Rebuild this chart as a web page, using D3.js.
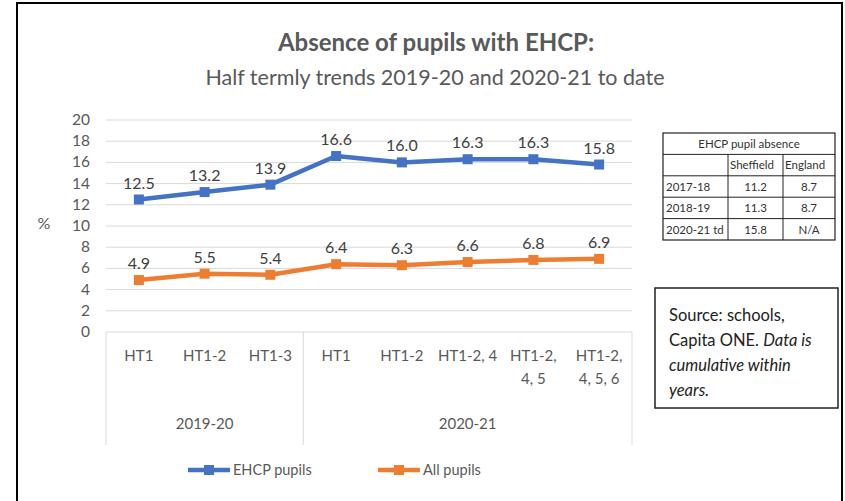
<!DOCTYPE html>
<html>
<head>
<meta charset="utf-8">
<script src="https://cdn.jsdelivr.net/npm/d3@7"></script>
<style>
  body { margin: 0; background: #fff; }
  svg { display: block; font-family: Lato, "Open Sans", sans-serif; }
</style>
</head>
<body>
<svg id="svg" width="845" height="501"></svg>
<script>
// data
const halfTerms = [["HT1"], ["HT1-2"], ["HT1-3"], ["HT1"], ["HT1-2"], ["HT1-2, 4"], ["HT1-2,", "4, 5"], ["HT1-2,", "4, 5, 6"]];
const years = ["2019-20", "2020-21"];
const yearSpans = [3, 5];
const ehcp = [12.5, 13.2, 13.9, 16.6, 16.0, 16.3, 16.3, 15.8];
const allPupils = [4.9, 5.5, 5.4, 6.4, 6.3, 6.6, 6.8, 6.9];
const yTicks = [0, 2, 4, 6, 8, 10, 12, 14, 16, 18, 20];
const tableHead = ["EHCP pupil absence"];
const tableCols = ["", "Sheffield", "England"];
const tableRows = [["2017-18", "11.2", "8.7"], ["2018-19", "11.3", "8.7"], ["2020-21 td", "15.8", "N/A"]];

const svg = d3.select('#svg');
const grey = '#595959';
const blue = '#4472C4', orange = '#ED7D31';

// outer frame (bottom is cut off in the original)
svg.append('path')
  .attr('d', 'M17,520 V3 H842 V520')
  .attr('fill', 'none').attr('stroke', '#000').attr('stroke-width', 2);

// titles
svg.append('text').attr('x', 436).attr('y', 51).attr('text-anchor', 'middle')
  .attr('font-size', 24).attr('font-weight', 'bold').attr('fill', grey)
  .text('Absence of pupils with EHCP:');
svg.append('text').attr('x', 435).attr('y', 85).attr('text-anchor', 'middle')
  .attr('font-size', 21.5).attr('fill', grey)
  .text('Half termly trends 2019-20 and 2020-21 to date');

// scales
const x = d3.scaleBand().domain(d3.range(halfTerms.length)).range([106, 632]);
const y = d3.scaleLinear().domain([0, 20]).range([332, 120]);
const cx = i => x(i) + x.bandwidth() / 2;

// gridlines + y labels
svg.append('g').selectAll('line').data(yTicks.filter(d => d > 0)).join('line')
  .attr('x1', 106).attr('x2', 632)
  .attr('y1', d => y(d)).attr('y2', d => y(d))
  .attr('stroke', '#d9d9d9').attr('stroke-width', 1);
svg.append('g').selectAll('text').data(yTicks).join('text')
  .attr('x', 90).attr('y', d => y(d) + 5).attr('text-anchor', 'end')
  .attr('font-size', 15.5).attr('fill', grey).text(d => d);
svg.append('text').attr('x', 44).attr('y', 229).attr('text-anchor', 'middle')
  .attr('font-size', 16).attr('fill', grey).text('%');

// category axis box
const cat = svg.append('g');
cat.append('line').attr('x1', 106).attr('x2', 632).attr('y1', 332).attr('y2', 332)
  .attr('stroke', '#d9d9d9');
let start = 0;
const edges = [0];
yearSpans.forEach(n => { start += n; edges.push(start); });
edges.forEach(e => {
  const xx = e < halfTerms.length ? x(e) : x.range()[1];
  cat.append('line').attr('x1', xx).attr('x2', xx).attr('y1', 332).attr('y2', 445)
    .attr('stroke', '#d9d9d9');
});
halfTerms.forEach((lines, i) => {
  lines.forEach((t, k) => {
    cat.append('text').attr('x', cx(i)).attr('y', 361 + k * 23)
      .attr('text-anchor', 'middle').attr('font-size', 15).attr('fill', grey).text(t);
  });
});
years.forEach((yr, j) => {
  const a = x(edges[j]);
  const b = edges[j + 1] < halfTerms.length ? x(edges[j + 1]) : x.range()[1];
  cat.append('text').attr('x', (a + b) / 2).attr('y', 429)
    .attr('text-anchor', 'middle').attr('font-size', 15).attr('fill', grey).text(yr);
});

// series
const line = d3.line().x((d, i) => cx(i)).y(d => y(d));
[[ehcp, blue], [allPupils, orange]].forEach(([vals, col]) => {
  const g = svg.append('g');
  g.append('path').attr('d', line(vals)).attr('fill', 'none')
    .attr('stroke', col).attr('stroke-width', 4.5).attr('stroke-linejoin', 'round');
  g.selectAll('rect').data(vals).join('rect')
    .attr('x', (d, i) => cx(i) - 5).attr('y', d => y(d) - 5)
    .attr('width', 10).attr('height', 10).attr('fill', col);
  g.selectAll('text').data(vals).join('text')
    .attr('x', (d, i) => cx(i)).attr('y', d => y(d) - 11)
    .attr('text-anchor', 'middle').attr('font-size', 16).attr('fill', '#404040')
    .text(d => d.toFixed(1));
});

// legend
const legend = [["EHCP pupils", blue, 188], ["All pupils", orange, 378]];
legend.forEach(([name, col, lx]) => {
  const g = svg.append('g');
  g.append('line').attr('x1', lx).attr('x2', lx + 42).attr('y1', 470).attr('y2', 470)
    .attr('stroke', col).attr('stroke-width', 4.5);
  g.append('rect').attr('x', lx + 16).attr('y', 465).attr('width', 10).attr('height', 10).attr('fill', col);
  g.append('text').attr('x', lx + 45).attr('y', 475).attr('font-size', 14.5).attr('fill', grey).text(name);
});

// small table
const tb = svg.append('g').attr('font-size', 11.5).attr('fill', '#333');
const colX = [663, 728, 783, 835];
const rowH = 21.4, tTop = 133;
const nRows = 2 + tableRows.length;
tb.append('rect').attr('x', colX[0]).attr('y', tTop).attr('width', colX[3] - colX[0])
  .attr('height', rowH * nRows).attr('fill', 'none').attr('stroke', '#222').attr('stroke-width', 1.2);
for (let r = 1; r < nRows; r++) {
  tb.append('line').attr('x1', colX[0]).attr('x2', colX[3])
    .attr('y1', tTop + r * rowH).attr('y2', tTop + r * rowH).attr('stroke', '#222');
}
[1, 2].forEach(c => {
  tb.append('line').attr('x1', colX[c]).attr('x2', colX[c])
    .attr('y1', tTop + rowH).attr('y2', tTop + rowH * nRows).attr('stroke', '#222');
});
tb.append('text').attr('x', (colX[0] + colX[3]) / 2).attr('y', tTop + 15)
  .attr('text-anchor', 'middle').text(tableHead[0]);
tableCols.forEach((t, c) => {
  tb.append('text').attr('x', colX[c] + 2).attr('y', tTop + rowH + 15).text(t);
});
tableRows.forEach((row, r) => {
  row.forEach((t, c) => {
    const yy = tTop + rowH * (r + 2) + 15;
    if (c === 0) tb.append('text').attr('x', colX[0] + 3).attr('y', yy).text(t);
    else tb.append('text').attr('x', (colX[c] + colX[c + 1]) / 2).attr('y', yy)
      .attr('text-anchor', 'middle').text(t);
  });
});

// source note
const sb = svg.append('g').attr('font-size', 16.5).attr('fill', '#222');
sb.append('rect').attr('x', 655).attr('y', 288).attr('width', 183).attr('height', 120)
  .attr('fill', '#fff').attr('stroke', '#222').attr('stroke-width', 1.5);
const l1 = sb.append('text').attr('x', 669).attr('y', 321);
l1.text('Source: schools,');
const l2 = sb.append('text').attr('x', 669).attr('y', 346);
l2.append('tspan').text('Capita ONE. ');
l2.append('tspan').attr('font-style', 'italic').text('Data is');
sb.append('text').attr('x', 669).attr('y', 371).attr('font-style', 'italic').text('cumulative within');
sb.append('text').attr('x', 669).attr('y', 396).attr('font-style', 'italic').text('years.');
</script>
</body>
</html>
